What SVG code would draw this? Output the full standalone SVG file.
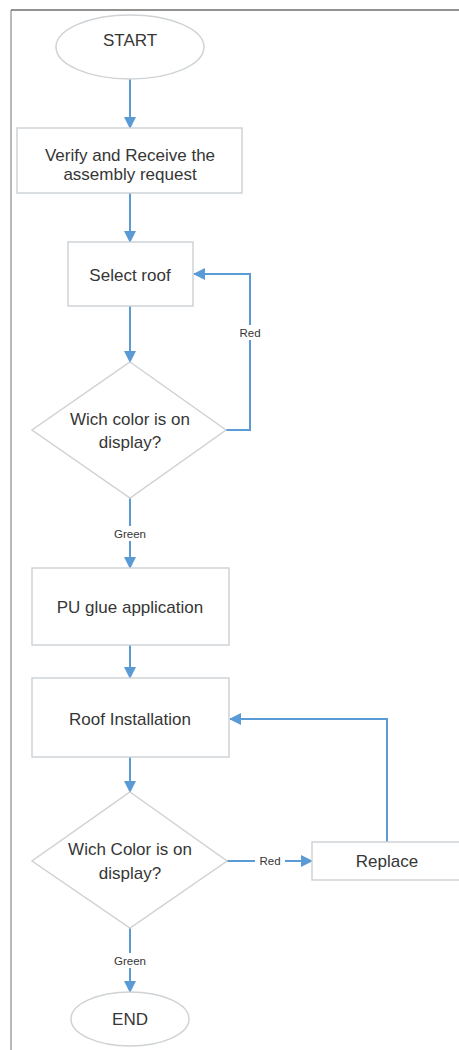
<svg xmlns="http://www.w3.org/2000/svg" width="459" height="1050" viewBox="0 0 459 1050">
<style>
.node{fill:#fff;stroke:#cfd3d6;stroke-width:1.5}
.t{font-family:"Liberation Sans",Arial,sans-serif;font-size:17px;fill:#363636;text-anchor:middle}
.lbl{font-family:"Liberation Sans",Arial,sans-serif;font-size:11.5px;fill:#363636;text-anchor:middle}
.c{fill:none;stroke:#5b9bd5;stroke-width:2}
.bg{fill:#fff}
</style>
<defs>
<marker id="ah" markerUnits="userSpaceOnUse" markerWidth="12" markerHeight="12" viewBox="0 0 12 12" refX="11" refY="6" orient="auto">
<path d="M0,0 L12,6 L0,12 Z" fill="#5b9bd5"/>
</marker>
</defs>
<rect x="0" y="0" width="459" height="1050" fill="#fff"/>
<g id="frame">
<line x1="11" y1="10" x2="459" y2="10" stroke="#6e6e6e" stroke-width="1.5"/>
<line x1="11" y1="10" x2="11" y2="1050" stroke="#8a8a8a" stroke-width="1.2"/>
</g>
<g id="connectors">
<line class="c" x1="130" y1="79" x2="130" y2="128" marker-end="url(#ah)"/>
<line class="c" x1="130" y1="193" x2="130" y2="242" marker-end="url(#ah)"/>
<line class="c" x1="130" y1="306" x2="130" y2="362" marker-end="url(#ah)"/>
<polyline class="c" points="226,430 250,430 250,274 194,274" marker-end="url(#ah)"/>
<rect class="bg" x="235" y="325" width="30" height="15"/>
<text class="lbl" x="250" y="337">Red</text>
<line class="c" x1="130" y1="498" x2="130" y2="568" marker-end="url(#ah)"/>
<rect class="bg" x="110" y="526" width="40" height="15"/>
<text class="lbl" x="130" y="538">Green</text>
<line class="c" x1="130" y1="645" x2="130" y2="678" marker-end="url(#ah)"/>
<line class="c" x1="130" y1="757" x2="130" y2="792" marker-end="url(#ah)"/>
<line class="c" x1="227" y1="861" x2="312" y2="861" marker-end="url(#ah)"/>
<rect class="bg" x="255" y="854" width="30" height="15"/>
<text class="lbl" x="270" y="865">Red</text>
<polyline class="c" points="387,842 387,719 230,719" marker-end="url(#ah)"/>
<line class="c" x1="130" y1="928" x2="130" y2="992" marker-end="url(#ah)"/>
<rect class="bg" x="110" y="953" width="40" height="15"/>
<text class="lbl" x="130" y="965">Green</text>
</g>
<g id="start">
<ellipse class="node" cx="130" cy="47" rx="74" ry="32"/>
<text class="t" x="130" y="46">START</text>
</g>
<g id="verify">
<rect class="node" x="17" y="128" width="225" height="65"/>
<text class="t" x="130" y="161">Verify and Receive the</text>
<text class="t" x="130" y="180">assembly request</text>
</g>
<g id="select">
<rect class="node" x="68" y="242" width="125" height="64"/>
<text class="t" x="130" y="281">Select roof</text>
</g>
<g id="decision1">
<polygon class="node" points="130,362 226,430 130,498 32,430"/>
<text class="t" x="130" y="425">Wich color is on</text>
<text class="t" x="130" y="448">display?</text>
</g>
<g id="glue">
<rect class="node" x="32" y="568" width="197" height="77"/>
<text class="t" x="130" y="613">PU glue application</text>
</g>
<g id="install">
<rect class="node" x="32" y="678" width="197" height="79"/>
<text class="t" x="130" y="725">Roof Installation</text>
</g>
<g id="decision2">
<polygon class="node" points="130,792 227,861 130,928 32,861"/>
<text class="t" x="130" y="855">Wich Color is on</text>
<text class="t" x="130" y="879">display?</text>
</g>
<g id="replace">
<rect class="node" x="312" y="842" width="150" height="38"/>
<text class="t" x="387" y="867">Replace</text>
</g>
<g id="end">
<ellipse class="node" cx="130" cy="1019" rx="59" ry="27"/>
<text class="t" x="130" y="1025">END</text>
</g>
</svg>
